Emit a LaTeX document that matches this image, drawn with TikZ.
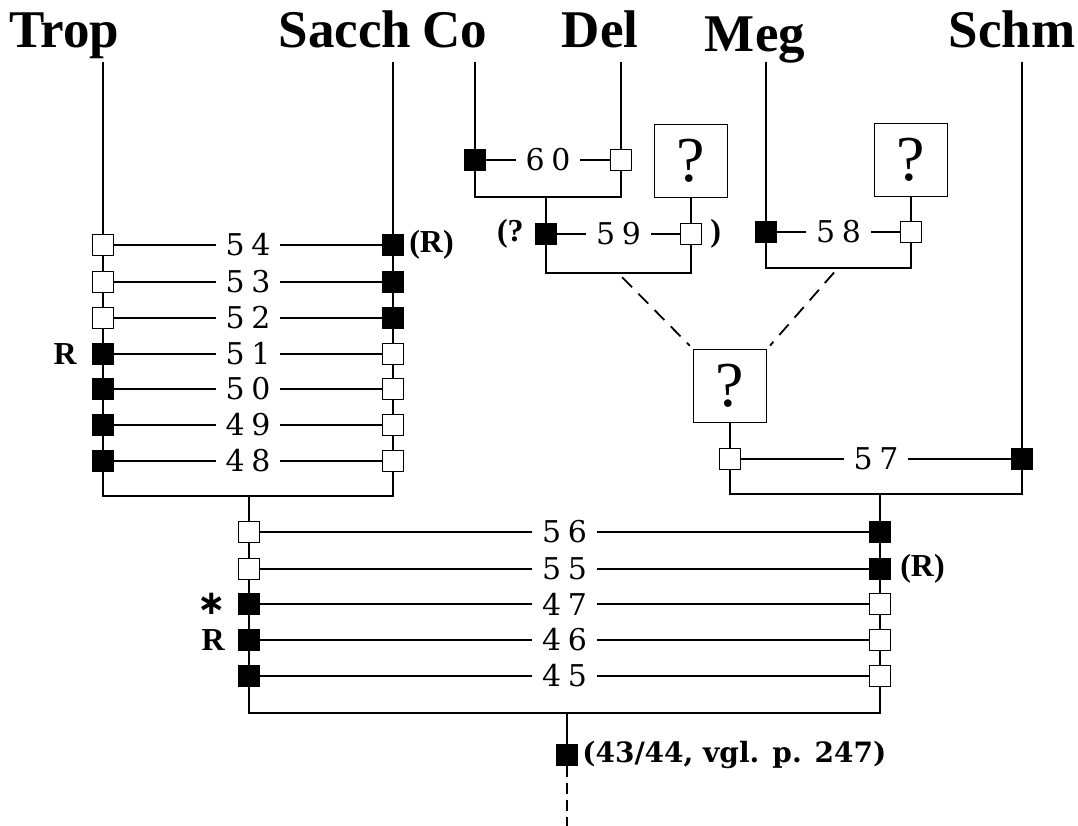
\documentclass[tikz,border=0pt]{standalone}
\usepackage{fontspec}
\setmainfont{Liberation Serif}
\newfontfamily\numfont[LetterSpace=22]{DejaVu Serif}
\newfontfamily\notefont{DejaVu Serif}
\newfontfamily\starfont{DejaVu Sans}
\usetikzlibrary{positioning}

\begin{document}
\begin{tikzpicture}[
    x=1pt, y=-1pt,
    line width=1.8pt,
    bsq/.style={draw, fill=black, minimum size=21pt, inner sep=0pt},
    wsq/.style={draw, fill=white, minimum size=21pt, inner sep=0pt},
    qbox/.style={draw, minimum size=73pt, inner sep=0pt, font=\fontsize{64}{64}\selectfont},
    taxon/.style={anchor=base, inner sep=0pt, font=\fontsize{53}{53}\selectfont\bfseries},
    nr/.style={fill=white, inner xsep=10pt, inner ysep=0pt, font=\numfont\fontsize{30}{30}\selectfont},
    tag/.style={inner sep=0pt, font=\fontsize{32}{32}\selectfont\bfseries},
    guess/.style={dash pattern=on 14pt off 9pt, shorten <=6pt, shorten >=4pt}
]
\useasboundingbox (0,0) rectangle (1078,826);

% Taxa along the top, with the start of their lines.
\node[taxon] (trop) at (64,48) {Trop};
\node[taxon] (sacch) at (345,48) {Sacch};
\node[taxon] (co) at (455,48) {Co};
\node[taxon] (del) at (600,48) {Del};
\node[taxon] (meg) at (755,52) {Meg};
\node[taxon] (schm) at (1012,48) {Schm};
\coordinate (tropE) at (103,62);
\coordinate (sacchE) at (393,62);
\coordinate (coE) at (475,62);
\coordinate (delE) at (621,62);
\coordinate (megE) at (766,62);
\coordinate (schmE) at (1022,62);

% Trop / Sacch: characters 54 to 48.
\node[wsq] (l54) at (103,245) {}; \node[bsq] (r54) at (393,245) {};
\node[wsq] (l53) at (103,282) {}; \node[bsq] (r53) at (393,282) {};
\node[wsq] (l52) at (103,318) {}; \node[bsq] (r52) at (393,318) {};
\node[bsq] (l51) at (103,354) {}; \node[wsq] (r51) at (393,354) {};
\node[bsq] (l50) at (103,389) {}; \node[wsq] (r50) at (393,389) {};
\node[bsq] (l49) at (103,425) {}; \node[wsq] (r49) at (393,425) {};
\node[bsq] (l48) at (103,461) {}; \node[wsq] (r48) at (393,461) {};
\coordinate (jA) at (249,496);

\draw (tropE) -- (l54) -- (l53) -- (l52) -- (l51) -- (l50) -- (l49) -- (l48);
\draw (sacchE) -- (r54) -- (r53) -- (r52) -- (r51) -- (r50) -- (r49) -- (r48);
\draw (l54) -- node[nr]{54} (r54);
\draw (l53) -- node[nr]{53} (r53);
\draw (l52) -- node[nr]{52} (r52);
\draw (l51) -- node[nr]{51} (r51);
\draw (l50) -- node[nr]{50} (r50);
\draw (l49) -- node[nr]{49} (r49);
\draw (l48) -- node[nr]{48} (r48);
\draw (l48) |- (jA) -| (r48);
\node[tag, right=4pt of r54] (tag54) {(R)};
\node[tag, left=14pt of l51] (tag51) {R};

% Co / Del, then the unknown partners of 59 and 58.
\node[bsq] (l60) at (475,160) {}; \node[wsq] (r60) at (621,160) {};
\coordinate (j60) at (546,197);
\draw (coE) -- (l60);
\draw (delE) -- (r60);
\draw (l60) -- node[nr]{60} (r60);
\draw (l60) |- (j60) -| (r60);

\node[qbox] (q59) at (691,161) {?};
\node[bsq] (l59) at (546,234) {}; \node[wsq] (r59) at (691,234) {};
\coordinate (j59) at (618,273);
\draw (j60) -- (l59);
\draw (q59) -- (r59);
\draw (l59) -- node[nr]{59} (r59);
\draw (l59) |- (j59) -| (r59);
\node[tag, left=10pt of l59] (tag59a) {(?};
\node[tag, right=7pt of r59] (tag59b) {)};

\node[qbox] (q58) at (911,160) {?};
\node[bsq] (l58) at (766,232) {}; \node[wsq] (r58) at (911,232) {};
\coordinate (j58) at (838,268);
\draw (megE) -- (l58);
\draw (q58) -- (r58);
\draw (l58) -- node[nr]{58} (r58);
\draw (l58) |- (j58) -| (r58);

% Doubtful link to Schm.
\node[qbox] (q57) at (730,386) {?};
\draw[guess] (j59) -- (q57.north west);
\draw[guess] (j58) -- (q57.north east);
\node[wsq] (l57) at (730,459) {}; \node[bsq] (r57) at (1022,459) {};
\coordinate (j57) at (880,494);
\draw (q57) -- (l57);
\draw (schmE) -- (r57);
\draw (l57) -- node[nr]{57} (r57);
\draw (l57) |- (j57) -| (r57);

% Lower group: characters 56 to 45.
\node[wsq] (l56) at (249,532) {}; \node[bsq] (r56) at (880,532) {};
\node[wsq] (l55) at (249,569) {}; \node[bsq] (r55) at (880,569) {};
\node[bsq] (l47) at (249,604) {}; \node[wsq] (r47) at (880,604) {};
\node[bsq] (l46) at (249,640) {}; \node[wsq] (r46) at (880,640) {};
\node[bsq] (l45) at (249,676) {}; \node[wsq] (r45) at (880,676) {};
\coordinate (jB) at (567,713);

\draw (jA) -- (l56) -- (l55) -- (l47) -- (l46) -- (l45);
\draw (j57) -- (r56) -- (r55) -- (r47) -- (r46) -- (r45);
\draw (l56) -- node[nr]{56} (r56);
\draw (l55) -- node[nr]{55} (r55);
\draw (l47) -- node[nr]{47} (r47);
\draw (l46) -- node[nr]{46} (r46);
\draw (l45) -- node[nr]{45} (r45);
\draw (l45) |- (jB) -| (r45);
\node[tag, right=8pt of r55] (tag55) {(R)};
\node[tag, left=11pt of l47, font=\starfont\bfseries\fontsize{34}{34}\selectfont] (tag47) {∗};
\node[tag, left=12pt of l46] (tag46) {R};

% Root of the whole group.
\node[bsq] (root) at (567,755) {};
\coordinate (rootE) at (567,826);
\draw (jB) -- (root);
\draw[dash pattern=on 11pt off 6pt] (root) -- (rootE);
\node[tag, right=3pt of root, font=\notefont\bfseries\fontsize{28}{28}\selectfont] (note) {(43/44, vgl. p. 247)};

\end{tikzpicture}
\end{document}
